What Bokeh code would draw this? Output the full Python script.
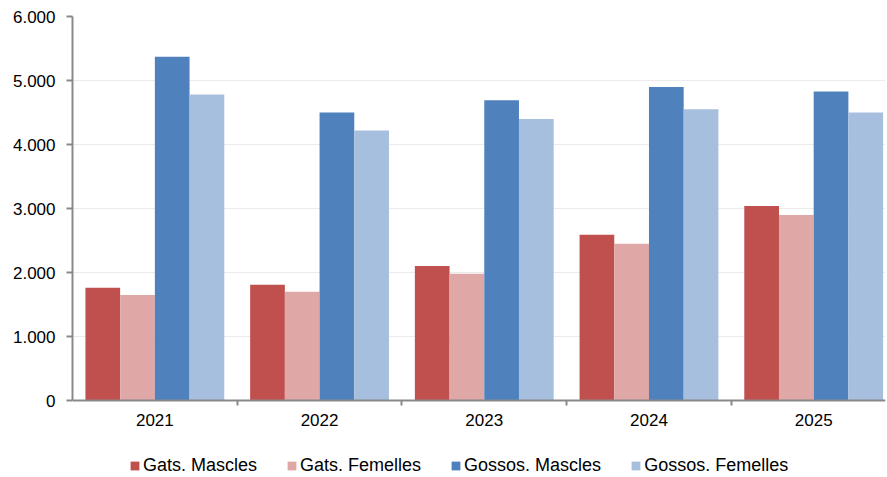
from bokeh.plotting import figure
from bokeh.models import Range1d, FixedTicker, Legend, LegendItem, ColumnDataSource
from bokeh.embed import file_html
from bokeh.resources import INLINE

years = ["2021", "2022", "2023", "2024", "2025"]
series_names = ["Gats. Mascles", "Gats. Femelles", "Gossos. Mascles", "Gossos. Femelles"]
gats_mascles = [1760, 1810, 2100, 2590, 3040]
gats_femelles = [1650, 1700, 1980, 2450, 2900]
gossos_mascles = [5370, 4500, 4690, 4900, 4830]
gossos_femelles = [4780, 4220, 4400, 4550, 4500]
colors = ["#C0504D", "#DFA7A6", "#4F81BD", "#A7BFDE"]
y_ticks = [0, 1000, 2000, 3000, 4000, 5000, 6000]

FONT = "Liberation Sans"

# frame spans down to the canvas bottom; the x axis sits at y=0 (fixed_location)
# so that the legend below it stays inside the frame
p = figure(width=887, height=477, output_backend="svg", toolbar_location=None,
           x_range=Range1d(0, 4.936), y_range=Range1d(-1203, 6000),
           min_border_left=72, min_border_right=2, min_border_top=16, min_border_bottom=0)
p.outline_line_color = None
p.background_fill_color = "white"

bar_w = 0.2107
centers = [i + 0.5 for i in range(len(years))]
renderers = []
for k, (vals, col) in enumerate(zip([gats_mascles, gats_femelles, gossos_mascles, gossos_femelles], colors)):
    xs = [c + (k - 1.5) * bar_w for c in centers]
    src = ColumnDataSource(dict(x=xs, top=vals))
    r = p.vbar(x="x", top="top", bottom=0, width=bar_w, source=src,
               fill_color=col, line_color=None)
    renderers.append(r)

# x axis
xa = p.xaxis[0]
xa.fixed_location = 0
xa.ticker = FixedTicker(ticks=centers, minor_ticks=[1, 2, 3, 4])
xa.major_label_overrides = {c: y for c, y in zip(centers, years)}
xa.major_tick_out = 0
xa.major_tick_in = 0
xa.minor_tick_out = 5
xa.minor_tick_in = 0
xa.minor_tick_line_color = "#898989"
xa.minor_tick_line_width = 2
xa.axis_line_color = "#898989"
xa.axis_line_width = 2
xa.major_label_standoff = 8
xa.major_label_text_font = FONT
xa.major_label_text_font_size = "17px"
xa.major_label_text_color = "#000000"

# y axis
ya = p.yaxis[0]
ya.bounds = (0, 6000)
ya.ticker = FixedTicker(ticks=y_ticks, minor_ticks=[])
ya.major_label_overrides = {v: f"{v:,}".replace(",", ".") for v in y_ticks}
ya.major_tick_out = 6
ya.major_tick_in = 0
ya.major_tick_line_color = "#898989"
ya.major_tick_line_width = 2
ya.axis_line_color = "#898989"
ya.axis_line_width = 2
ya.major_label_standoff = 11
ya.major_label_text_font = FONT
ya.major_label_text_font_size = "17px"
ya.major_label_text_color = "#000000"

p.xgrid.grid_line_color = None
p.ygrid.grid_line_color = "#EBEBEB"
p.ygrid.grid_line_width = 1

legend = Legend(items=[LegendItem(label=n, renderers=[r]) for n, r in zip(series_names, renderers)],
                location=(57, 1), orientation="horizontal",
                glyph_width=11, glyph_height=11, label_standoff=3, spacing=29,
                padding=0, margin=0, border_line_alpha=0, background_fill_alpha=0,
                label_text_font=FONT, label_text_font_size="18px", label_text_color="#000000")
p.add_layout(legend, "center")

open("out.html", "w").write(file_html(p, INLINE))
